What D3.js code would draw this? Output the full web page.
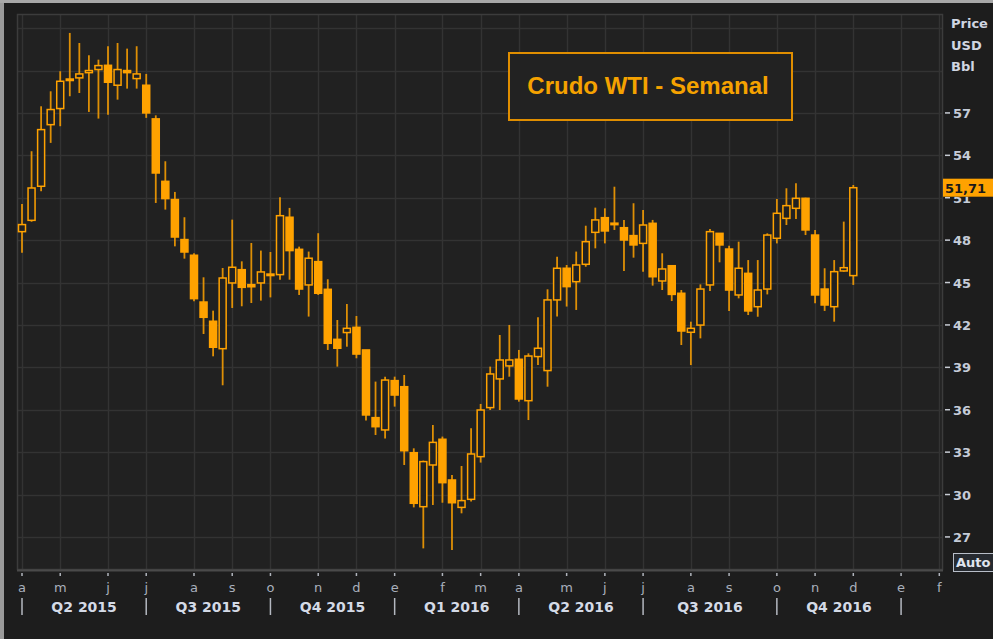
<!DOCTYPE html>
<html>
<head>
<meta charset="utf-8">
<script src="https://cdn.jsdelivr.net/npm/d3@7/dist/d3.min.js"></script>
<style>
  html, body { margin: 0; padding: 0; background: #1d1d1d; }
  svg { display: block; }
</style>
</head>
<body>
<svg id="chart" width="993" height="639"></svg>
<script>
// ---- Data (weekly WTI candles) ----
const open  = [48.6,49.4,51.81,56.17,57.31,59.4,59.48,59.85,60.07,60.37,58.96,60.0,59.43,58.96,56.58,52.16,50.87,48.04,46.93,43.62,42.26,40.32,44.97,45.91,44.85,44.97,45.5,45.56,49.62,47.35,44.83,46.48,44.52,40.98,41.46,41.83,40.23,35.44,34.57,38.06,37.63,32.96,29.14,32.09,33.91,31.03,29.09,29.66,32.68,36.15,38.18,39.1,39.57,36.64,39.76,38.77,43.77,46.01,45.06,46.29,48.55,49.59,49.1,48.88,48.32,47.77,49.19,45.11,46.19,44.24,41.48,41.99,44.83,48.48,47.37,44.12,45.65,43.29,44.54,48.13,49.54,50.25,50.96,48.36,44.54,43.29,45.82,45.49];
const high  = [50.56,54.29,57.47,58.53,59.95,62.66,61.95,61.08,60.77,61.72,61.95,61.55,61.72,59.76,56.83,53.58,51.41,49.62,47.07,45.37,43.01,46.03,49.45,46.5,47.8,47.26,47.16,51.03,50.28,47.54,47.19,48.49,45.23,42.35,43.48,42.63,40.23,37.99,38.34,38.34,38.46,33.27,32.4,34.92,34.1,31.38,32.02,34.69,36.41,39.05,41.29,42.0,40.23,39.99,42.54,44.52,46.83,46.24,47.19,49.02,50.3,50.25,51.78,49.43,50.61,50.13,49.43,47.07,46.19,44.47,42.23,44.87,48.79,48.48,47.61,47.89,46.59,46.59,48.48,50.91,51.67,52.02,51.0,48.72,46.01,46.59,49.31,51.9];
const low   = [47.1,49.3,51.46,54.88,56.06,58.18,58.41,57.07,56.6,56.88,57.94,58.72,58.72,56.65,50.63,50.16,47.56,46.69,43.67,41.36,39.78,37.73,43.2,43.32,43.55,43.72,43.95,45.2,45.2,44.12,42.59,44.12,40.23,39.05,40.46,39.64,35.23,34.21,33.97,36.22,32.09,29.09,26.19,29.26,29.42,26.07,28.67,29.5,32.26,35.98,35.98,38.34,36.57,35.27,39.17,37.63,42.59,43.3,43.06,46.12,47.42,47.77,48.72,45.82,46.76,45.77,44.78,44.47,43.69,40.58,39.16,41.05,44.4,46.43,42.99,43.88,42.7,42.58,44.16,47.77,49.07,49.5,48.36,43.53,42.99,42.23,45.77,44.83];
const close = [49.1,51.69,55.82,57.24,59.24,59.3,59.76,60.0,60.35,59.17,60.07,59.85,59.76,57.0,52.75,50.94,48.22,47.16,43.86,42.54,40.42,45.32,46.08,44.66,44.7,45.75,45.6,49.73,47.26,44.54,46.72,44.24,40.7,40.35,41.76,39.94,35.63,34.8,38.1,37.04,33.1,29.38,32.33,33.69,30.84,29.42,29.57,32.87,35.98,38.53,39.52,39.52,36.76,39.8,40.35,43.77,46.01,44.71,46.24,47.89,49.43,48.65,49.2,48.01,47.66,49.07,45.41,45.96,44.16,41.57,41.76,44.54,48.6,47.66,44.47,46.01,42.99,44.47,48.36,49.9,50.44,50.96,48.72,44.12,43.41,45.77,46.05,51.71];

// Month ticks: label and week slot
const monthLabels = ["a","m","j","j","a","s","o","n","d","e","f","m","a","m","j","j","a","s","o","n","d","e","f"];
const monthWeeks  = [0,4,9,13,18,22,26,31,35,39,44,48,52,57,61,65,70,74,79,83,87,92,96];
// Quarter separators (week slots) and labels
const quarterWeeks  = [0,13,26,39,52,65,79,92];
const quarterLabels = ["Q2 2015","Q3 2015","Q4 2015","Q1 2016","Q2 2016","Q3 2016","Q4 2016"];
// Price axis
const priceTicks = [27,30,33,36,39,42,45,48,51,54,57];
const gridTicks  = [27,30,33,36,39,42,45,48,51,54,57,60,63];
const unitLines  = ["Price","USD","Bbl"];
const lastPrice  = "51,71";
const title      = "Crudo WTI - Semanal";

// ---- Layout ----
const W = 993, H = 639;
const plot = {left: 17, top: 14, right: 943, bottom: 570};
const ORANGE = "#ffa200";
const BG = "#212121";

const svg = d3.select("#chart");

// backgrounds
svg.append("rect").attr("width", W).attr("height", H).attr("fill", "#1d1d1d");
svg.append("rect").attr("x", 0).attr("y", 0).attr("width", 4).attr("height", H).attr("fill", "#9a9a9a");
svg.append("rect").attr("x", 0).attr("y", 0).attr("width", W).attr("height", 3).attr("fill", "#a8a8a8");
svg.append("rect")
  .attr("x", plot.left).attr("y", plot.top)
  .attr("width", plot.right - plot.left).attr("height", plot.bottom - plot.top)
  .attr("fill", BG);

// scales
const weekSlots = d3.range(0, 97);
const x = d3.scalePoint().domain(weekSlots).range([22, 939.3]);
const y = d3.scaleLinear().domain([24.66, 64.0]).range([plot.bottom, plot.top]);

// grid
const grid = svg.append("g");
grid.selectAll("line.h").data(gridTicks).join("line")
  .attr("x1", plot.left).attr("x2", plot.right)
  .attr("y1", d => Math.round(y(d)) + 0.5).attr("y2", d => Math.round(y(d)) + 0.5)
  .attr("stroke", "#333333").attr("stroke-width", 1.5);
grid.selectAll("line.v").data(monthWeeks).join("line")
  .attr("x1", d => Math.round(x(d)) + 0.5).attr("x2", d => Math.round(x(d)) + 0.5)
  .attr("y1", plot.top).attr("y2", plot.bottom)
  .attr("stroke", "#333333").attr("stroke-width", 1.5);

// plot frame
svg.append("rect")
  .attr("x", plot.left + 0.5).attr("y", plot.top + 0.5)
  .attr("width", plot.right - plot.left - 1).attr("height", plot.bottom - plot.top - 1)
  .attr("fill", "none").attr("stroke", "#3c3c3c").attr("stroke-width", 1.5);
svg.append("line")
  .attr("x1", plot.left).attr("x2", plot.right)
  .attr("y1", plot.bottom + 0.5).attr("y2", plot.bottom + 0.5)
  .attr("stroke", "#4a4a4a").attr("stroke-width", 2);

// title box
svg.append("rect")
  .attr("x", 509).attr("y", 53).attr("width", 283).attr("height", 67)
  .attr("fill", "#222222").attr("stroke", "#e08e00").attr("stroke-width", 2);
svg.append("text")
  .attr("x", 648).attr("y", 94)
  .attr("text-anchor", "middle")
  .attr("font-family", "Liberation Sans, Arial, sans-serif")
  .attr("font-weight", "bold").attr("font-size", 24)
  .attr("fill", "#f5a200")
  .text(title);

// candles
const candles = open.map((o, i) => ({i, o, h: high[i], l: low[i], c: close[i]}));
const cg = svg.append("g");
cg.selectAll("line.wick").data(candles).join("line")
  .attr("x1", d => x(d.i)).attr("x2", d => x(d.i))
  .attr("y1", d => y(d.h)).attr("y2", d => y(d.l))
  .attr("stroke", ORANGE).attr("stroke-width", 1.8).attr("stroke-opacity", 0.85);
cg.selectAll("rect.body").data(candles).join("rect")
  .attr("x", d => x(d.i) - 3.5)
  .attr("width", 7)
  .attr("y", d => y(Math.max(d.o, d.c)))
  .attr("height", d => Math.max(Math.abs(y(d.o) - y(d.c)), 1.5))
  .attr("fill", d => d.c >= d.o ? BG : ORANGE)
  .attr("stroke", ORANGE).attr("stroke-width", 1.5);

// right axis
const lp = y(close[close.length - 1]);
svg.append("defs").append("clipPath").attr("id", "belowMarker")
  .append("rect").attr("x", 940).attr("y", lp + 9).attr("width", 60).attr("height", H);
const axR = svg.append("g").attr("font-family", "DejaVu Sans, Verdana, sans-serif").attr("font-weight", "bold");
axR.selectAll("line.tk").data(priceTicks).join("line")
  .attr("x1", 945).attr("x2", 950)
  .attr("y1", d => y(d)).attr("y2", d => y(d))
  .attr("stroke", "#c8ccd4").attr("stroke-width", 1.5);
axR.selectAll("text.tk").data(priceTicks).join("text")
  .attr("x", 953).attr("y", d => y(d) + 5)
  .attr("font-size", 13).attr("fill", "#c5ccd8")
  .attr("clip-path", d => Math.abs(y(d) - lp) < 14 ? "url(#belowMarker)" : null)
  .text(d => d);
axR.selectAll("text.unit").data(unitLines).join("text")
  .attr("x", 951).attr("y", (d, k) => 28 + k * 21.5)
  .attr("font-size", 13).attr("fill", "#d0d6e2")
  .text(d => d);
// last price marker
svg.append("rect").attr("x", 943).attr("y", lp - 9).attr("width", 50).attr("height", 18).attr("fill", "#ffa200");
svg.append("text")
  .attr("x", 945).attr("y", lp + 5)
  .attr("font-family", "DejaVu Sans, Verdana, sans-serif").attr("font-weight", "bold")
  .attr("font-size", 13).attr("fill", "#1a1a1a")
  .text(lastPrice);
// Auto box
svg.append("rect").attr("x", 953.5).attr("y", 553.5).attr("width", 42).attr("height", 18)
  .attr("fill", "#262a30").attr("stroke", "#b8bec8").attr("stroke-width", 1);
svg.append("text").attr("x", 956).attr("y", 567)
  .attr("font-family", "DejaVu Sans, Verdana, sans-serif").attr("font-weight", "bold")
  .attr("font-size", 13).attr("fill", "#dfe4ee").text("Auto");

// bottom axis
const axB = svg.append("g").attr("font-family", "DejaVu Sans, Verdana, sans-serif");
axB.selectAll("line.mt").data(monthWeeks).join("line")
  .attr("x1", d => x(d)).attr("x2", d => x(d))
  .attr("y1", 573).attr("y2", 576)
  .attr("stroke", "#b0b4bc").attr("stroke-width", 1.5);
axB.selectAll("text.m").data(monthLabels).join("text")
  .attr("x", (d, k) => x(monthWeeks[k])).attr("y", 592)
  .attr("text-anchor", "middle")
  .attr("font-size", 13).attr("fill", "#a9b0bc")
  .text(d => d);
axB.selectAll("line.q").data(quarterWeeks).join("line")
  .attr("x1", d => x(d)).attr("x2", d => x(d))
  .attr("y1", 598).attr("y2", 615)
  .attr("stroke", "#b4b8c0").attr("stroke-width", 1.5);
axB.selectAll("text.q").data(quarterLabels).join("text")
  .attr("x", (d, k) => (x(quarterWeeks[k]) + x(quarterWeeks[k + 1])) / 2)
  .attr("y", 612)
  .attr("text-anchor", "middle")
  .attr("font-size", 14).attr("font-weight", "bold").attr("fill", "#d4dae6")
  .text(d => d);
</script>
</body>
</html>
